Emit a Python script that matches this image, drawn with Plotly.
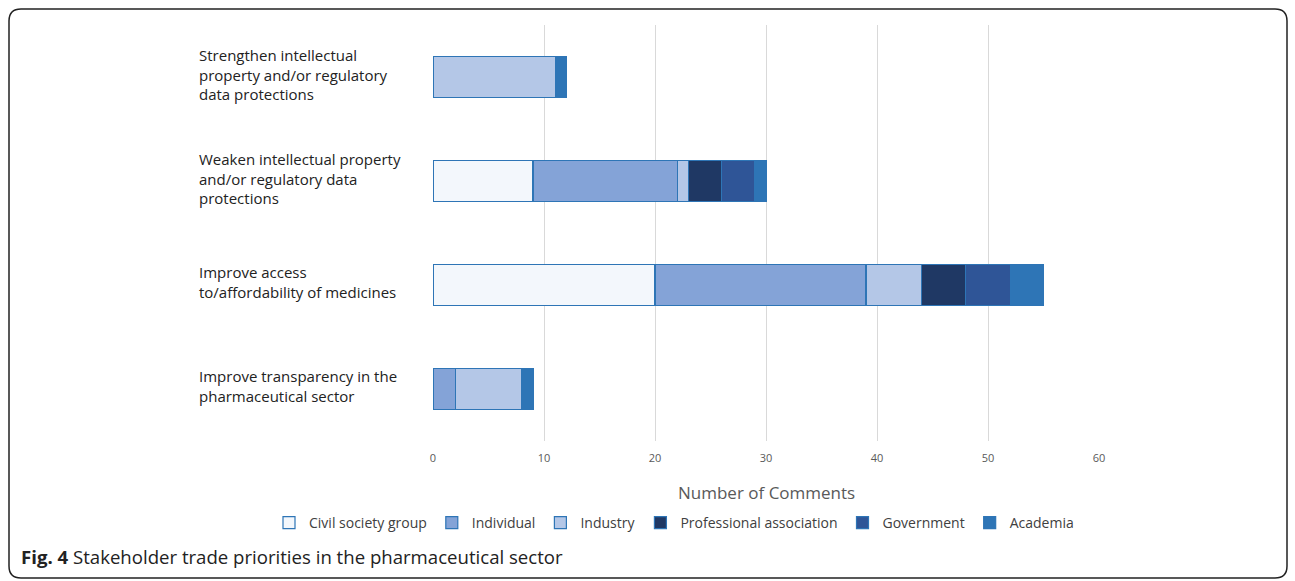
import plotly.graph_objects as go

categories = [
    "Strengthen intellectual<br>property and/or regulatory<br>data protections",
    "Weaken intellectual property<br>and/or regulatory data<br>protections",
    "Improve access<br>to/affordability of medicines",
    "Improve transparency in the<br>pharmaceutical sector",
]
cat_keys = ["Strengthen", "Weaken", "Access", "Transparency"]

civil_society = [0, 9, 20, 0]
individual = [0, 13, 19, 2]
industry = [11, 1, 5, 6]
professional = [0, 3, 4, 0]
government = [0, 3, 4, 0]
academia = [1, 1, 3, 1]

series = [
    ("Civil society group", civil_society, "#F3F7FC"),
    ("Individual", individual, "#84A3D7"),
    ("Industry", industry, "#B4C7E7"),
    ("Professional association", professional, "#1F3864"),
    ("Government", government, "#2F5597"),
    ("Academia", academia, "#2E75B6"),
]

x_ticks = [0, 10, 20, 30, 40, 50, 60]

W, H = 1295, 581

def px(x):
    return x / W

def py(y):
    return 1 - y / H

fig = go.Figure()
for name, vals, color in series:
    fig.add_trace(go.Bar(
        y=cat_keys,
        x=[v if v else None for v in vals],
        name=name,
        orientation="h",
        width=0.4,
        marker=dict(color=color, line=dict(color="#2E75B6", width=1.2)),
    ))

# rounded border
x0, y0, x1, y1, r = 9, 9, 1287, 578, 12
path = (
    f"M {px(x0 + r)},{py(y0)} L {px(x1 - r)},{py(y0)} "
    f"Q {px(x1)},{py(y0)} {px(x1)},{py(y0 + r)} "
    f"L {px(x1)},{py(y1 - r)} Q {px(x1)},{py(y1)} {px(x1 - r)},{py(y1)} "
    f"L {px(x0 + r)},{py(y1)} Q {px(x0)},{py(y1)} {px(x0)},{py(y1 - r)} "
    f"L {px(x0)},{py(y0 + r)} Q {px(x0)},{py(y0)} {px(x0 + r)},{py(y0)} Z"
)
fig.add_shape(type="path", path=path, xref="paper", yref="paper",
              line=dict(color="#222222", width=1.5), layer="above")

annotations = []
for key, label in zip(cat_keys, categories):
    annotations.append(dict(
        x=px(197), y=key, xref="paper", yref="y", text=label,
        showarrow=False, xanchor="left", yanchor="middle", align="left",
        font=dict(size=15, color="#222222"), yshift=3,
    ))
annotations.append(dict(
    x=px(19), y=py(556), xref="paper", yref="paper",
    text="<b>Fig. 4</b> Stakeholder trade priorities in the pharmaceutical sector",
    showarrow=False, xanchor="left", yanchor="middle",
    font=dict(size=18.6, color="#222222"),
))
annotations.append(dict(
    x=px(766), y=py(492), xref="paper", yref="paper", text="Number of Comments",
    showarrow=False, xanchor="center", yanchor="middle",
    font=dict(size=17, color="#595959"),
))

fig.update_layout(
    width=W, height=H,
    margin=dict(l=0, r=0, t=0, b=0, autoexpand=False),
    barmode="stack",
    plot_bgcolor="white",
    paper_bgcolor="white",
    font=dict(family="Open Sans, Lato, sans-serif", color="#404040"),
    xaxis=dict(
        domain=[px(433), px(1099)], automargin=False,
        range=[0, 60], tickvals=x_ticks, showgrid=True, gridcolor="#D9D9D9",
        gridwidth=1, zeroline=False, showline=False,
        tickfont=dict(size=11, color="#595959"), ticks="",
        ticklabelstandoff=9,
    ),
    yaxis=dict(
        domain=[py(441), py(25)], automargin=False,
        categoryorder="array", categoryarray=cat_keys, autorange="reversed",
        showticklabels=False, showgrid=False, zeroline=False, showline=False,
    ),
    legend=dict(
        orientation="h", x=px(674), xanchor="center", y=py(523), yanchor="middle",
        font=dict(size=14, color="#404040"), traceorder="normal",
        itemwidth=30, tracegroupgap=0,
    ),
    annotations=annotations,
)

fig.write_html("out.html")
